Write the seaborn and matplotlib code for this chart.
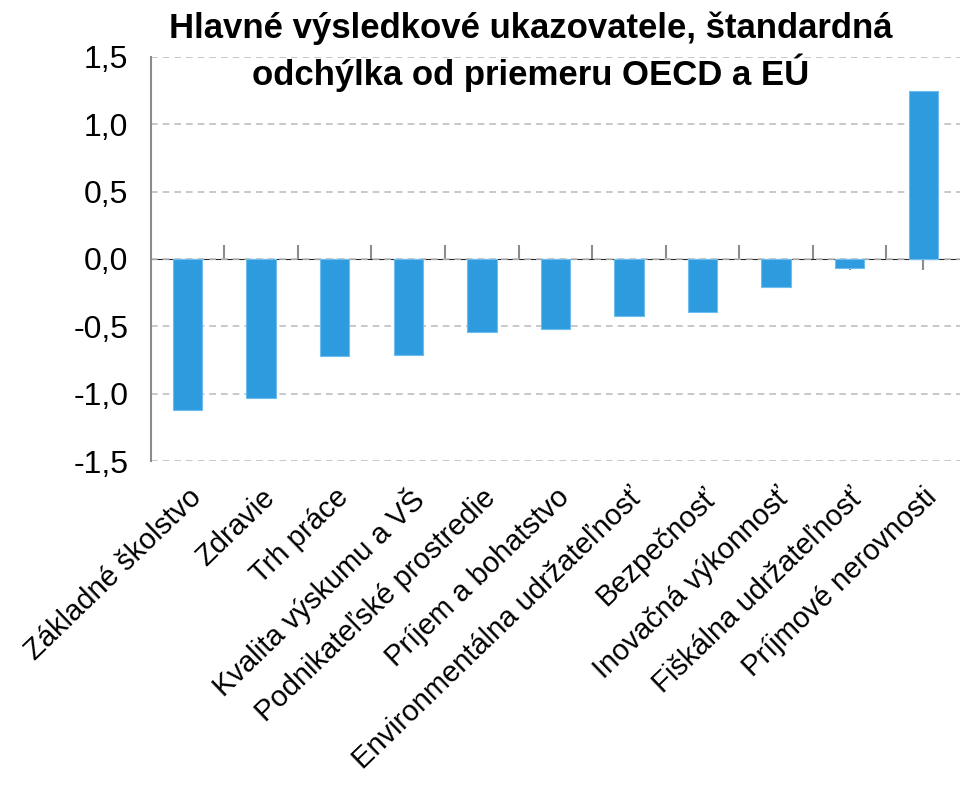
import matplotlib
matplotlib.use("Agg")
import matplotlib.pyplot as plt
import seaborn as sns
import pandas as pd
import numpy as np

categories = ["Základné školstvo", "Zdravie", "Trh práce", "Kvalita výskumu a VŠ",
              "Podnikateľské prostredie", "Príjem a bohatstvo",
              "Environmentálna udržateľnosť", "Bezpečnosť", "Inovačná výkonnosť",
              "Fiškálna udržateľnosť", "Príjmové nerovnosti"]
values = [-1.12, -1.03, -0.72, -0.71, -0.54, -0.52, -0.42, -0.39, -0.21, -0.07, 1.25]
yticks = [-1.5, -1.0, -0.5, 0.0, 0.5, 1.0, 1.5]
title = "Hlavné výsledkové ukazovatele, štandardná\nodchýlka od priemeru OECD a EÚ"

sns.set_style("white")
plt.rcParams['font.family'] = ['Liberation Sans Narrow', 'Liberation Sans', 'DejaVu Sans']
plt.rcParams['text.color'] = 'black'
plt.rcParams['xtick.labelcolor'] = 'black'
plt.rcParams['ytick.labelcolor'] = 'black'

df = pd.DataFrame({"cat": categories, "val": values})

fig = plt.figure(figsize=(9.6, 7.99), dpi=100)
ax = fig.add_axes([0.157, 0.423, 0.843, 0.5057])

sns.barplot(data=df, x="cat", y="val", color="#2E9BDE", width=0.4,
            edgecolor="#6DBDF0", linewidth=0.8, saturation=1, ax=ax, zorder=3)

ax.set_xlim(-0.5, len(categories) - 0.5)
ax.set_ylim(-1.5, 1.5)
ax.set_yticks(yticks)
ax.set_yticklabels([f"{t:.1f}".replace(".", ",") for t in yticks], fontsize=23)
ax.yaxis.grid(True, linestyle=(0, (4, 3)), color="#BFBFBF", linewidth=1.2, zorder=0)
ax.set_axisbelow(True)

for s in ["top", "right", "bottom"]:
    ax.spines[s].set_visible(False)
ax.spines["left"].set_color("#8C8C8C")
ax.spines["left"].set_linewidth(1.5)
ax.tick_params(axis="y", length=10, width=1.5, color="#8C8C8C", labelcolor="black", pad=6)

ax.set_xticks(range(len(categories)))
ax.set_xticklabels(categories, rotation=44, ha="right", rotation_mode="anchor", fontsize=21)
ax.tick_params(axis="x", length=0, pad=16, labelcolor="black")
ax.set_xlabel("")
ax.set_ylabel("")

# zero axis with tick marks
sec = ax.secondary_xaxis(0.5)
sec.spines["bottom"].set_color("#8C8C8C")
sec.spines["bottom"].set_linewidth(1.5)
sec.set_xticks(range(len(categories)))
sec.set_xticklabels([])
sec.tick_params(axis="x", which="major", direction="in", length=8, width=1.5, color="#8C8C8C")
sec.set_xticks(np.arange(0.5, len(categories) - 1, 1), minor=True)
sec.tick_params(axis="x", which="minor", direction="out", length=10, width=1.5, color="#8C8C8C")

fig.text(0.553, 0.985, title, ha="center", va="top", fontsize=25, fontweight="bold",
         linespacing=1.25, color="black")

fig.savefig("out.png", dpi=100)
